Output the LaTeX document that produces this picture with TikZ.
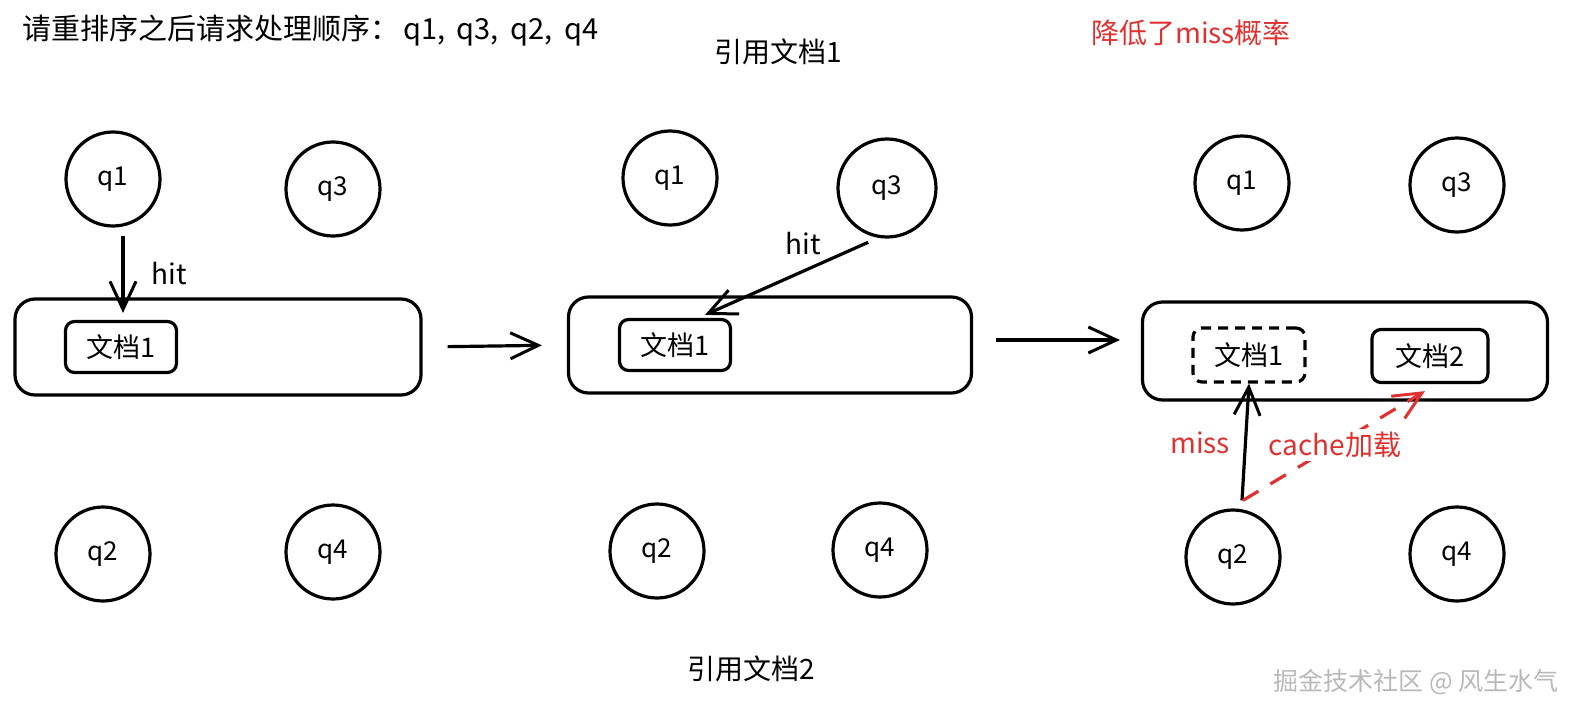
\documentclass[tikz,border=0pt]{standalone}
\usepackage{fontspec}
\setmainfont{Noto Sans CJK SC}
\usetikzlibrary{arrows.meta}
\definecolor{exred}{HTML}{E03131}
\tikzset{
  qnode/.style={circle, draw, line width=3.2pt, minimum size=94pt, inner sep=0pt, font=\fontsize{26}{26}\selectfont},
  bigbox/.style={draw, line width=3.2pt, rounded corners=20pt, inner sep=0pt},
  docbox/.style={draw, line width=3.2pt, rounded corners=9pt, inner sep=0pt, font=\fontsize{27}{27}\selectfont},
  arr/.style={line width=3.2pt, -{Straight Barb[length=28pt,width=26pt,line width=3pt]}},
  lbl/.style={font=\fontsize{28}{28}\selectfont, inner sep=0pt},
}
\begin{document}
\begin{tikzpicture}[x=1pt,y=-1pt]
\useasboundingbox (0,0) rectangle (1580,717);
% texts
\node[lbl, anchor=west, font=\fontsize{29}{29}\selectfont] (title) at (22,31) {请重排序之后请求处理顺序：\hspace{4pt}q1,\hspace{5pt} q3,\hspace{5pt} q2,\hspace{5pt} q4};
\node[lbl] (ref1) at (778,52) {引用文档1};
\node[lbl, text=exred] (lower) at (1191,33) {降低了miss概率};
\node[lbl] (ref2) at (751,669) {引用文档2};
\node[lbl, font=\fontsize{25}{25}\selectfont, text=gray!55] (wm) at (1416,682) {掘金技术社区 @ 风生水气};

% panel 1
\node[qnode] (q1a) at (113,179) {q1};
\node[qnode] (q3a) at (333,189) {q3};
\node[qnode] (q2a) at (103,554) {q2};
\node[qnode] (q4a) at (333,552) {q4};
\node[bigbox, minimum width=406pt, minimum height=96pt] (boxa) at (218,347) {};
\node[docbox, minimum width=111pt, minimum height=51pt] (d1a) at (121,347) {文档1};
\draw[arr] ([xshift=10pt,yshift=-8pt]q1a.south) -- ([xshift=2pt,yshift=7pt]d1a.north);
\node[lbl] (hita) at (169,274) {hit};

% panel 2
\node[qnode] (q1b) at (670,178) {q1};
\node[qnode, minimum size=98pt] (q3b) at (887,188) {q3};
\node[qnode] (q2b) at (657,551) {q2};
\node[qnode] (q4b) at (880,550) {q4};
\node[bigbox, minimum width=403pt, minimum height=96pt] (boxb) at (770,345) {};
\node[docbox, minimum width=111pt, minimum height=51pt] (d1b) at (675,345) {文档1};
\draw[arr, shorten <=11pt] (q3b.260) -- ([xshift=30pt,yshift=3pt]d1b.north);
\node[lbl] (hitb) at (803,244) {hit};

% panel 3
\node[qnode] (q1c) at (1242,183) {q1};
\node[qnode] (q3c) at (1457,185) {q3};
\node[qnode] (q2c) at (1233,557) {q2};
\node[qnode] (q4c) at (1457,554) {q4};
\node[bigbox, minimum width=405pt, minimum height=98pt] (boxc) at (1345,351) {};
\node[docbox, dashed, dash pattern=on 10pt off 7pt, minimum width=112pt, minimum height=54pt] (d1c) at (1249,355) {文档1};
\node[docbox, minimum width=116pt, minimum height=53pt] (d2c) at (1430,356) {文档2};
\draw[arr] ([xshift=9pt,yshift=8pt]q2c.north) -- (d1c.south);
\draw[arr, exred, dashed, dash pattern=on 18pt off 14pt] ([xshift=10pt,yshift=8pt]q2c.north) -- ([xshift=-5pt,yshift=-7pt]d2c.south);
\node[lbl, text=exred] (miss) at (1200,443) {miss};
\node[lbl, text=exred, fill=white, inner sep=3pt] (cache) at (1335,445) {cache加载};

% panel transitions
\draw[arr, shorten <=25pt, shorten >=25pt] (boxa.east) -- (boxb.west);
\draw[arr, shorten <=23pt, shorten >=21pt] ([yshift=5pt]boxb.east) -- ([yshift=11pt]boxc.west);
\end{tikzpicture}
\end{document}
